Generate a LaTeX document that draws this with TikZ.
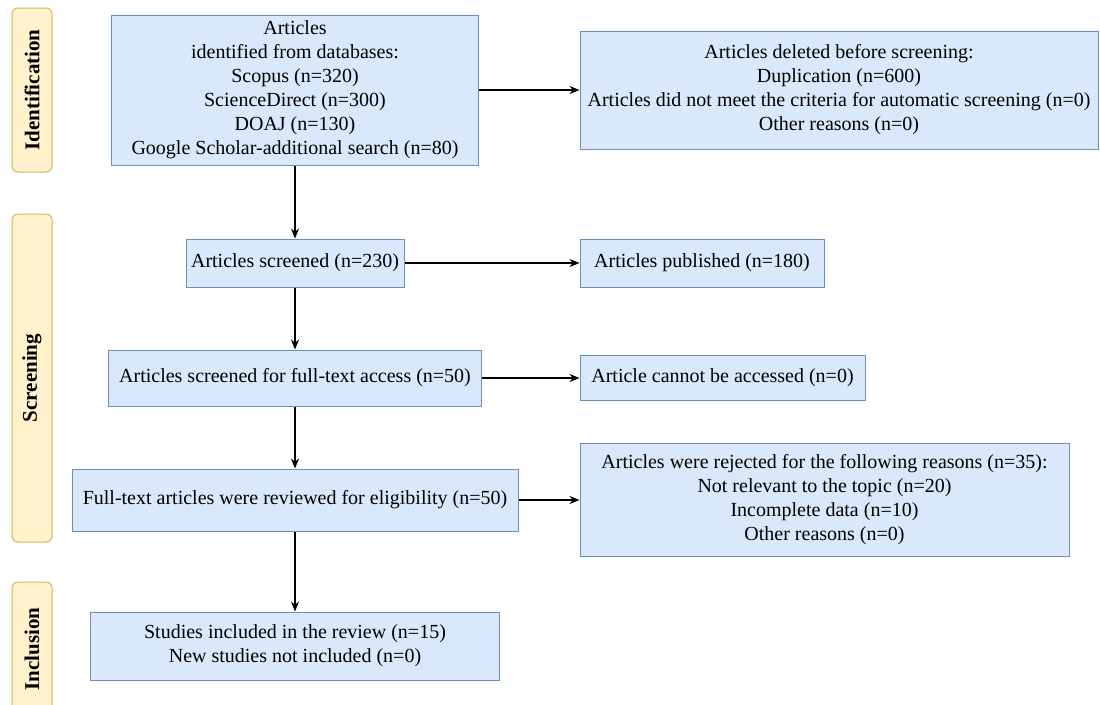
\documentclass[tikz,border=0pt]{standalone}
\usepackage{fontspec}
\setmainfont{Liberation Serif}
\usetikzlibrary{arrows.meta, positioning}
\definecolor{pblue}{HTML}{DAE8FC}
\definecolor{pblueline}{HTML}{6C8EBF}
\definecolor{pyellow}{HTML}{FFF2CC}
\definecolor{pyellowline}{HTML}{D6B656}
\tikzset{
  sbox/.style={draw=pblueline, fill=pblue, line width=1pt, align=center,
               inner sep=0pt, font=\fontsize{20}{24}\selectfont},
  phase/.style={draw=pyellowline, fill=pyellow, rounded corners=6pt, line width=1pt,
                rotate=90, minimum height=40pt, inner sep=0pt,
                font=\fontsize{21}{24}\selectfont\bfseries},
  arr/.style={-{Stealth[length=10pt,width=8pt]}, line width=1.2pt, black},
}
\begin{document}
\begin{tikzpicture}[x=1pt, y=-1pt]
  \useasboundingbox (0,0) rectangle (1100,704);
  \clip (0,0) rectangle (1100,704);
  \fill[white] (0,0) rectangle (1100,704);

  %% -- phases --
  \node[phase, minimum width=164pt] (pident) at (32,90)  {Identification};
  \node[phase, minimum width=328pt] (pscr)   at (32,378) {Screening};
  \node[phase, minimum width=134pt] (pincl)  at (32,649) {Inclusion};

  %% -- main column --
  \node[sbox, minimum width=367pt, minimum height=150pt] (ident) at (295,90)
    {Articles\\identified from databases:\\Scopus (n=320)\\ScienceDirect (n=300)\\DOAJ (n=130)\\Google Scholar-additional search (n=80)};
  \node[sbox, minimum width=218pt, minimum height=48pt] (screened) at (295,263)
    {Articles screened (n=230)};
  \node[sbox, minimum width=373pt, minimum height=56pt] (fulltext) at (295,378)
    {Articles screened for full-text access (n=50)};
  \node[sbox, minimum width=446pt, minimum height=62pt] (eligible) at (295,500)
    {Full-text articles were reviewed for eligibility (n=50)};
  \node[sbox, minimum width=409pt, minimum height=68pt] (included) at (295,646)
    {Studies included in the review (n=15)\\New studies not included (n=0)};

  %% -- side column --
  \node[sbox, minimum width=518pt, minimum height=118pt] (deleted) at (839,90)
    {Articles deleted before screening:\\Duplication (n=600)\\Articles did not meet the criteria for automatic screening (n=0)\\Other reasons (n=0)};
  \node[sbox, minimum width=244pt, minimum height=48pt] (published) at (702,263)
    {Articles published (n=180)};
  \node[sbox, minimum width=285pt, minimum height=45pt] (noaccess) at (722.5,378)
    {Article cannot be accessed (n=0)};
  \node[sbox, minimum width=489pt, minimum height=113pt] (rejected) at (824.5,500)
    {Articles were rejected for the following reasons (n=35):\\Not relevant to the topic (n=20)\\Incomplete data (n=10)\\Other reasons (n=0)};

  %% -- arrows --
  \draw[arr] (ident) -- (screened);
  \draw[arr] (screened) -- (fulltext);
  \draw[arr] (fulltext) -- (eligible);
  \draw[arr] (eligible) -- (included);
  \draw[arr] (ident) -- (deleted);
  \draw[arr] (screened) -- (published);
  \draw[arr] (fulltext) -- (noaccess);
  \draw[arr] (eligible) -- (rejected);
\end{tikzpicture}
\end{document}
